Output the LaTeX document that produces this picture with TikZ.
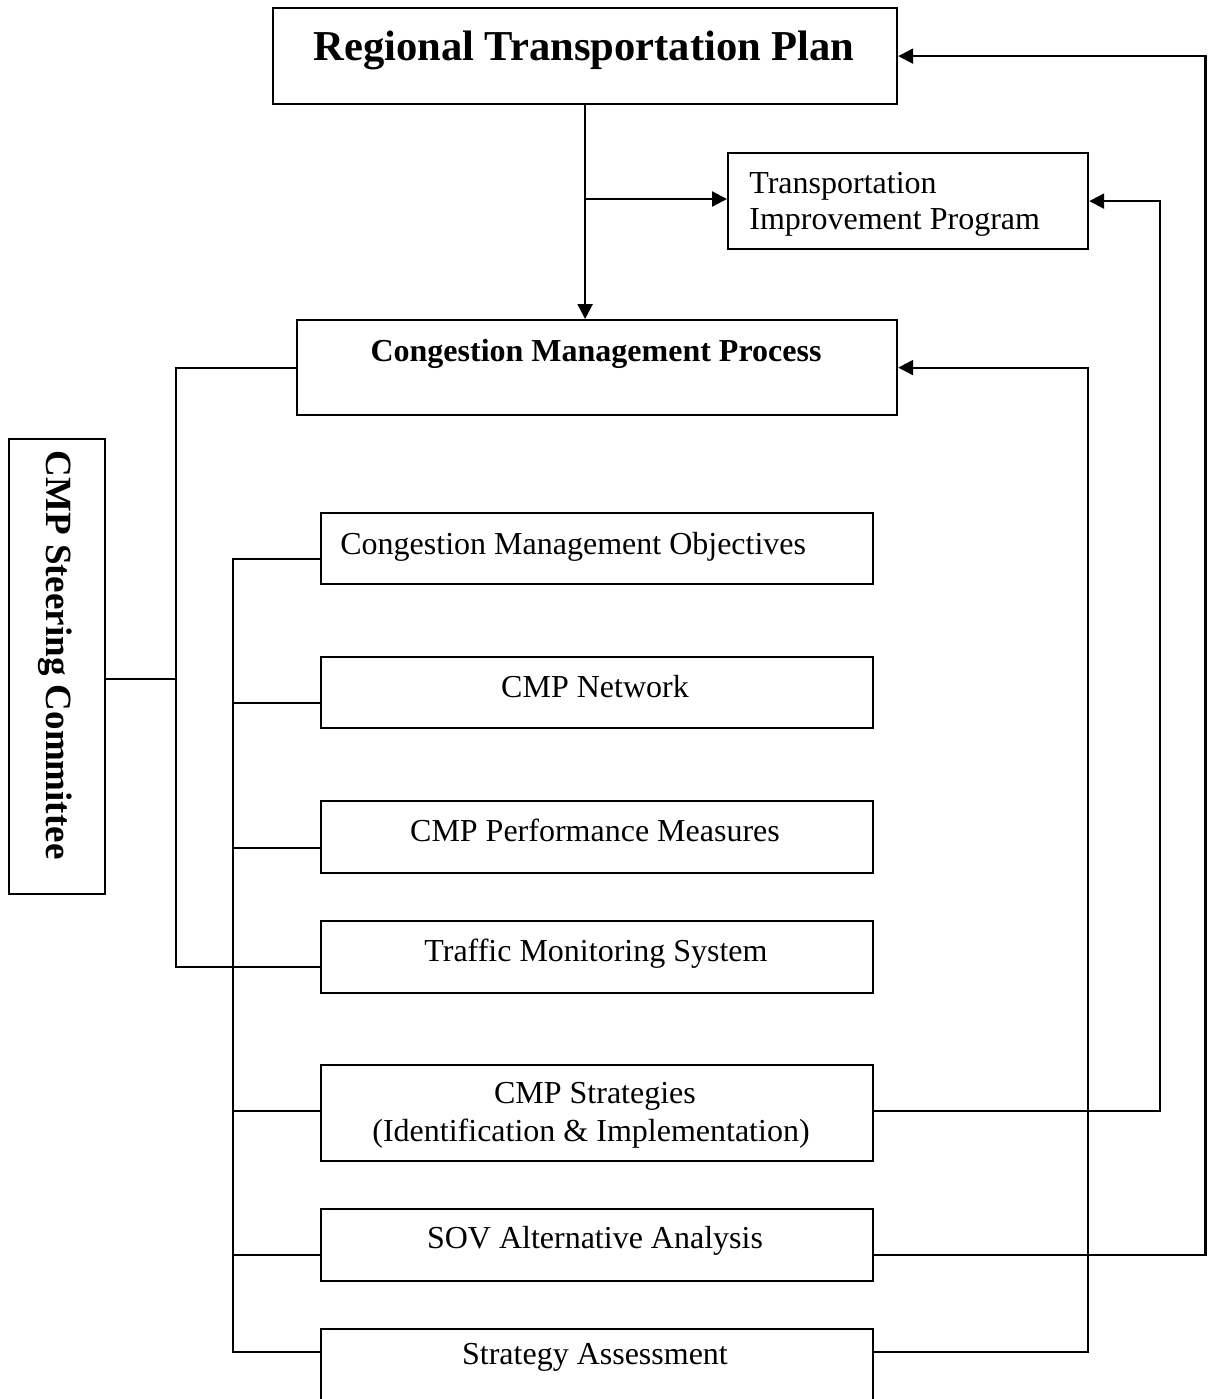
\documentclass[tikz,border=0pt]{standalone}
\usepackage{fontspec}
\setmainfont{Liberation Serif}
\usetikzlibrary{arrows.meta}
\begin{document}
\begin{tikzpicture}[x=0.5pt,y=-0.5pt,
  box/.style={draw,line width=1.1pt,inner sep=0pt,anchor=north west,minimum width=276pt,minimum height=36pt},
  lbl/.style={inner sep=0pt,anchor=base,font=\fontsize{16}{19}\selectfont},
  conn/.style={line width=1.1pt},
  arr/.style={conn,-{Triangle[length=7.5pt,width=7.5pt]}}]
\clip (0,0) rectangle (1207,1399);
% boxes
\node[box,minimum width=312pt,minimum height=48pt] (rtp) at (272,7) {};
\node[box,minimum width=180pt,minimum height=48pt] (tip) at (727,152) {};
\node[box,minimum width=300pt,minimum height=47.5pt] (cmp) at (296,319) {};
\node[box,minimum width=48pt,minimum height=227.5pt] (steer) at (8,438) {};
\node[box,minimum height=35.5pt] (cmo) at (320,512) {};
\node[box,minimum height=35.5pt] (net) at (320,656) {};
\node[box] (perf) at (320,800) {};
\node[box] (tms) at (320,920) {};
\node[box,minimum height=48pt] (strat) at (320,1064) {};
\node[box] (sov) at (320,1208) {};
\node[box,minimum height=50pt] (assess) at (320,1328) {};
% texts
\node[lbl,font=\bfseries\fontsize{21.3}{25}\selectfont] (rtpT) at (584,60) {Regional Transportation Plan};
\node[lbl,anchor=base west] (tipT1) at (749,193) {Transportation};
\node[lbl,anchor=base west] (tipT2) at (749,229) {Improvement Program};
\node[lbl,font=\bfseries\fontsize{16}{19}\selectfont] (cmpT) at (596,361) {Congestion Management Process};
\node[lbl,rotate=-90,font=\bfseries\fontsize{18.5}{22}\selectfont] (steerT) at (47,655) {CMP Steering Committee};
\node[lbl,anchor=base west] (cmoT) at (340,554) {Congestion Management Objectives};
\node[lbl] (netT) at (595,697) {CMP Network};
\node[lbl] (perfT) at (595,841) {CMP Performance Measures};
\node[lbl] (tmsT) at (596,961) {Traffic Monitoring System};
\node[lbl] (stratT1) at (595,1103) {CMP Strategies};
\node[lbl] (stratT2) at (591,1141) {(Identification \& Implementation)};
\node[lbl] (sovT) at (595,1248) {SOV Alternative Analysis};
\node[lbl] (assessT) at (595,1364) {Strategy Assessment};
% junction coordinates
\coordinate (br) at (584,199);
\coordinate (L1) at (176,679);
\coordinate (L2) at (233,0);
\coordinate (R1) at (1088,0);
\coordinate (R2) at (1160,0);
\coordinate (R3) at (1205.5,0);
\coordinate (yCmp) at (0,368);
\coordinate (yTms) at (0,967);
\coordinate (yCmo) at (0,559);
\coordinate (yNet) at (0,703);
\coordinate (yPerf) at (0,848);
\coordinate (yStrat) at (0,1111);
\coordinate (ySov) at (0,1255);
\coordinate (yAss) at (0,1352);
% top connectors
\draw[arr] (rtp.south) -- (rtp.south |- cmp.north);
\draw[arr] (br) -- (br -| tip.west);
% steering committee tree
\draw[conn] (steer.east |- L1) -- (L1);
\draw[conn] (cmp.west |- yCmp) -- (L1 |- yCmp) -- (L1 |- yTms) -- (tms.west |- yTms);
% inner tree
\draw[conn] (cmo.west |- yCmo) -- (L2 |- yCmo) -- (L2 |- yAss) -- (assess.west |- yAss);
\draw[conn] (L2 |- yNet) -- (net.west |- yNet);
\draw[conn] (L2 |- yPerf) -- (perf.west |- yPerf);
\draw[conn] (L2 |- yStrat) -- (strat.west |- yStrat);
\draw[conn] (L2 |- ySov) -- (sov.west |- ySov);
% feedback connectors
\draw[arr] (strat.east |- yStrat) -- (R2 |- yStrat) -- (R2 |- tip.east) -- (tip.east);
\draw[arr] (sov.east |- ySov) -- (R3 |- ySov) -- (R3 |- rtp.east) -- (rtp.east);
\draw[arr] (assess.east |- yAss) -- (R1 |- yAss) -- (R1 |- cmp.east) -- (cmp.east);
\end{tikzpicture}
\end{document}
